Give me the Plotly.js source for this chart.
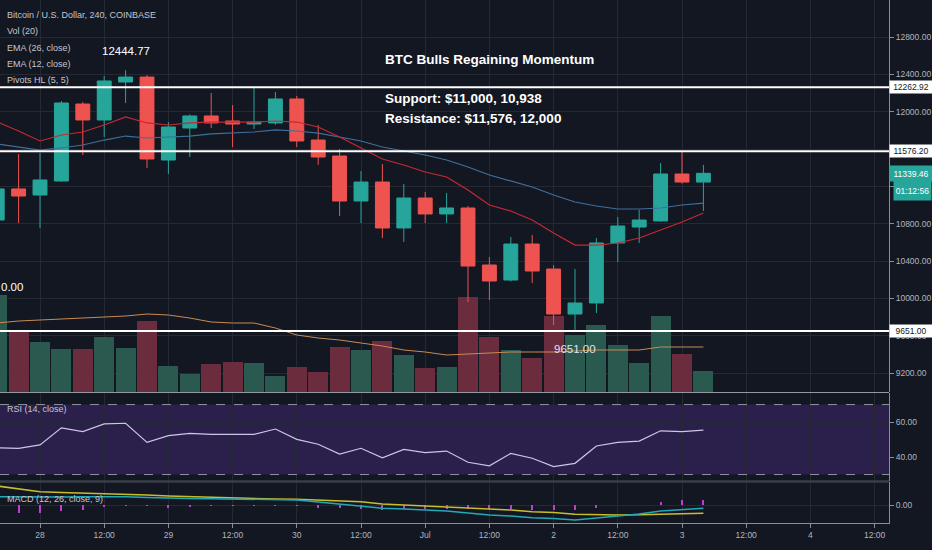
<!DOCTYPE html>
<html><head><meta charset="utf-8">
<script src="https://cdn.plot.ly/plotly-3.0.1.min.js"></script>
<style>html,body{margin:0;padding:0;background:#131722;}#chart{width:932px;height:550px;}</style>
</head><body><div id="chart"></div>
<script>
// ---- data ----
const times = ["2019-06-27 16:00","2019-06-27 20:00","2019-06-28 00:00","2019-06-28 04:00","2019-06-28 08:00","2019-06-28 12:00","2019-06-28 16:00","2019-06-28 20:00","2019-06-29 00:00","2019-06-29 04:00","2019-06-29 08:00","2019-06-29 12:00","2019-06-29 16:00","2019-06-29 20:00","2019-06-30 00:00","2019-06-30 04:00","2019-06-30 08:00","2019-06-30 12:00","2019-06-30 16:00","2019-06-30 20:00","2019-07-01 00:00","2019-07-01 04:00","2019-07-01 08:00","2019-07-01 12:00","2019-07-01 16:00","2019-07-01 20:00","2019-07-02 00:00","2019-07-02 04:00","2019-07-02 08:00","2019-07-02 12:00","2019-07-02 16:00","2019-07-02 20:00","2019-07-03 00:00","2019-07-03 04:00"];
const openP  = [10839,11172,11107,11257,12082,11911,12318,12371,11482,11825,11954,11900,11868,11879,12136,11696,11525,11043,11246,10754,11075,10904,10968,10357,10196,10582,10314,9832,9950,10593,10764,10829,11332,11246];
const highP  = [11236,11546,11557,12114,12104,12382,12444.77,12393,11889,11970,12200,12071,12262.92,12211,12168,11857,11600,11364,11439,11225,11139,11129,10989,10443,10657,10679,10357,10314,10646,10871,10946,11450,11576.2,11429];
const lowP   = [10754,10807,10754,11250,11536,11729,12093,11396,11332,11514,11825,11621,11814,11860,11621,11429,10882,10807,10646,10604,10807,10807,9961,9982,10180,10164,9714,9651,9843,10389,10593,10820,11230,10936];
const closeP = [11172,11096,11268,12093,11911,12329,12371,11493,11836,11954,11879,11868,11889,12136,11686,11514,11043,11246,10754,11075,10904,10968,10346,10186,10582,10293,9832,9950,10593,10775,10839,11332,11246,11339.46];
const ema12  = [11889,11793,11686,11750,11782,11857,11943,11879,11857,11879,11889,11889,11889,11900,11889,11836,11729,11611,11493,11429,11354,11300,11161,11000,10936,10839,10700,10571,10571,10593,10646,10732,10818,10914];
const ema26  = [11654,11621,11589,11611,11643,11696,11739,11718,11729,11739,11761,11771,11782,11804,11793,11771,11729,11686,11621,11579,11536,11482,11407,11321,11257,11193,11107,11032,10989,10957,10957,10968,11000,11021];
const volume = [3880,2400,2000,1720,1720,2200,1760,2840,1040,720,1120,1200,1160,640,1000,800,1800,1680,2040,1480,960,1000,3800,2200,1680,1360,3040,2280,2680,1880,1160,3040,1520,840];
const volMA  = [2760,2840,2880,2920,2960,3000,3040,3120,3080,2960,2800,2760,2760,2560,2280,2160,2080,1960,1840,1680,1600,1480,1520,1560,1600,1600,1600,1640,1680,1680,1680,1800,1800,1800];
const rsi    = [45.3,45.0,46.9,56.7,54.5,58.9,59.3,48.4,52.2,53.5,53.0,53.0,53.0,56.0,50.1,47.3,41.7,45.0,39.6,44.4,42.5,43.4,37.0,35.0,42.1,39.3,34.5,36.4,46.3,48.4,49.1,55.0,54.5,55.4];
const macd   = [83,80,77,80,83,85,83,75,67,65,63,60,57,53,50,30,10,-7,-33,-40,-50,-60,-80,-100,-110,-127,-135,-150,-130,-110,-90,-60,-45,-33];
const signal = [190,160,133,125,120,117,110,100,90,83,77,67,63,60,57,50,40,33,10,0,-7,-17,-30,-40,-50,-67,-75,-93,-97,-100,-97,-90,-87,-83];
const hist   = [-90,-80,-80,-60,-50,-20,-10,-10,-30,-20,-10,-5,-5,-5,-5,-30,-30,-40,-50,-40,-40,-40,-40,-40,-40,-50,-50,-50,-30,0,5,30,50,50];
const levels = [12262.92, 11576.20, 9651.00];
const lastPrice = 11339.46;
const countdown = "01:12:56";
const pivotHigh = {t:"2019-06-28 16:00", v:12444.77};
const pivotLow  = {t:"2019-07-02 04:00", v:9651.00};
const xTickVals = ["2019-06-28 00:00","2019-06-28 12:00","2019-06-29 00:00","2019-06-29 12:00","2019-06-30 00:00","2019-06-30 12:00","2019-07-01 00:00","2019-07-01 12:00","2019-07-02 00:00","2019-07-02 12:00","2019-07-03 00:00","2019-07-03 12:00","2019-07-04 00:00","2019-07-04 12:00"];
const xTickText = ["28","12:00","29","12:00","30","12:00","Jul","12:00","2","12:00","3","12:00","4","12:00"];
const legendLines = ["Bitcoin / U.S. Dollar, 240, COINBASE","Vol (20)","EMA (26, close)","EMA (12, close)","Pivots HL (5, 5)"];
const noteTitle = "BTC Bulls Regaining Momentum";
const noteLines = ["Support: $11,000, 10,938","Resistance: $11,576, 12,000"];
const cutLabel = "0.00";

// ---- styling / layout ----
const F = '"Liberation Sans","Arimo",Arial,sans-serif';
const BG = '#131722', GRID = '#252934', TXT = '#b2b5be', AXL = '#8a8d96';
const UP = '#26a69a', DN = '#ef5350';
const AX_FS = 8.5;
const plotW = 889, plotH = 523;
const px = v => v / plotW;
const py = v => (plotH - v) / plotH;

const volColors = openP.map((o,i) => closeP[i] >= o ? '#2a5a4f' : '#6b2d3d');

const traces = [
  {type:'bar', x:times, y:volume, xaxis:'x', yaxis:'y', marker:{color:volColors, line:{width:0}}, width:13392000, hoverinfo:'skip'},
  {type:'scatter', mode:'lines', x:times, y:volMA, xaxis:'x', yaxis:'y', line:{color:'#c98a52', width:1}, hoverinfo:'skip'},
  {type:'candlestick', x:times, open:openP, high:highP, low:lowP, close:closeP, xaxis:'x', yaxis:'y2',
   increasing:{line:{color:UP, width:1}, fillcolor:UP}, decreasing:{line:{color:DN, width:1}, fillcolor:DN}, hoverinfo:'skip'},
  {type:'scatter', mode:'lines', x:times, y:ema26, xaxis:'x', yaxis:'y2', line:{color:'#3f6f9c', width:1.2}, hoverinfo:'skip'},
  {type:'scatter', mode:'lines', x:times, y:ema12, xaxis:'x', yaxis:'y2', line:{color:'#c62832', width:1.2}, hoverinfo:'skip'},
  {type:'scatter', mode:'lines', x:times, y:rsi, xaxis:'x', yaxis:'y3', line:{color:'#cfc3ea', width:1.2}, hoverinfo:'skip'},
  {type:'bar', x:times, y:hist, xaxis:'x', yaxis:'y4', marker:{color:'#c23bd4', line:{width:0}}, width:1300000, hoverinfo:'skip'},
  {type:'scatter', mode:'lines', x:times, y:signal, xaxis:'x', yaxis:'y4', line:{color:'#c9bd2c', width:1.5}, hoverinfo:'skip'},
  {type:'scatter', mode:'lines', x:times, y:macd, xaxis:'x', yaxis:'y4', line:{color:'#22a9b8', width:1.5}, hoverinfo:'skip'}
];

const yCommon = {side:'right', anchor:'x', showgrid:true, gridcolor:GRID, zeroline:false, ticks:'outside', ticklen:4, tickcolor:AXL,
  tickfont:{family:F, size:AX_FS, color:TXT}, showline:true, linecolor:AXL, linewidth:1, tickformat:'.2f', fixedrange:true};

const shapes = [];
shapes.push({type:'rect', xref:'paper', x0:0, x1:1, yref:'y3', y0:30, y1:70, fillcolor:'rgba(103,58,183,0.28)', line:{width:0}, layer:'below'});
[70,30].forEach(v => shapes.push({type:'line', xref:'paper', x0:0, x1:1, yref:'y3', y0:v, y1:v, line:{color:'#8f92a0', width:1, dash:'dash'}}));
shapes.push({type:'line', xref:'paper', x0:0, x1:1, yref:'paper', y0:py(392.5), y1:py(392.5), line:{color:'#9598a1', width:1}});
shapes.push({type:'line', xref:'paper', x0:0, x1:1, yref:'paper', y0:py(481.5), y1:py(481.5), line:{color:'#3a3e49', width:2.5}});
levels.forEach(v => shapes.push({type:'line', xref:'paper', x0:0, x1:1, yref:'y2', y0:v, y1:v, line:{color:'#ffffff', width:2}}));

const LEG = {family:F, size:9, color:'#c3c6ce'};
const NOTE = {family:F, size:13.5, color:'#ffffff', weight:'bold'};
const ann = [];
legendLines.forEach((t,i) => ann.push({text:t, xref:'paper', yref:'paper', x:px(5), y:py(15 + i*16.3), xanchor:'left', yanchor:'middle', showarrow:false, font:LEG}));
ann.push({text:'RSI (14, close)', xref:'paper', yref:'paper', x:px(5), y:py(409), xanchor:'left', yanchor:'middle', showarrow:false, font:LEG});
ann.push({text:'MACD (12, 26, close, 9)', xref:'paper', yref:'paper', x:px(5), y:py(499), xanchor:'left', yanchor:'middle', showarrow:false, font:LEG});
ann.push({text:noteTitle, xref:'paper', yref:'paper', x:px(383), y:py(60), xanchor:'left', yanchor:'middle', showarrow:false, font:NOTE});
noteLines.forEach((t,i) => ann.push({text:t, xref:'paper', yref:'paper', x:px(383), y:py(99 + i*19), xanchor:'left', yanchor:'middle', showarrow:false, font:NOTE}));
ann.push({text:pivotHigh.v.toFixed(2), xref:'x', yref:'y2', x:pivotHigh.t, y:pivotHigh.v, xanchor:'center', yanchor:'bottom', yshift:11, showarrow:false, font:{family:F, size:11.5, color:'#ffffff'}});
ann.push({text:pivotLow.v.toFixed(2), xref:'x', yref:'y2', x:pivotLow.t, y:pivotLow.v, xanchor:'center', yanchor:'top', yshift:-10, showarrow:false, font:{family:F, size:11.5, color:'#e0e3eb'}});
ann.push({text:cutLabel, xref:'paper', yref:'paper', x:px(0), y:py(287), xanchor:'left', yanchor:'middle', showarrow:false, borderpad:0, font:{family:F, size:11.5, color:'#ffffff'}});
levels.forEach(v => ann.push({text:v.toFixed(2), xref:'paper', yref:'y2', x:1, y:v, xanchor:'left', yanchor:'middle', showarrow:false, bgcolor:'#ffffff', width:40, align:'center', borderpad:1, font:{family:F, size:AX_FS, color:'#131722'}}));
ann.push({text:lastPrice.toFixed(2), xref:'paper', yref:'y2', x:1, y:lastPrice, xanchor:'left', yanchor:'middle', showarrow:false, bgcolor:UP, width:40, height:13, align:'center', borderpad:1, font:{family:F, size:AX_FS, color:'#ffffff'}});
ann.push({text:countdown, xref:'paper', yref:'paper', x:px(893), y:py(190.5), xanchor:'left', yanchor:'middle', showarrow:false, bgcolor:UP, width:35, height:17, align:'center', valign:'middle', borderpad:1, font:{family:F, size:AX_FS, color:'#ffffff'}});

const layout = {
  width:932, height:550, margin:{l:0, r:43, t:0, b:27},
  paper_bgcolor:BG, plot_bgcolor:BG, showlegend:false, dragmode:false,
  boxgap:0.35, boxgroupgap:0, bargap:0,
  xaxis:{type:'date', range:['2019-06-27 16:31:22','2019-07-04 14:41:30'], domain:[0,1], anchor:'y4',
    tickmode:'array', tickvals:xTickVals, ticktext:xTickText, showgrid:true, gridcolor:GRID, zeroline:false,
    ticks:'outside', ticklen:4, tickcolor:AXL, tickfont:{family:F, size:AX_FS, color:TXT},
    showline:true, linecolor:AXL, linewidth:1, rangeslider:{visible:false}, fixedrange:true},
  yaxis:{domain:[py(392), 1], range:[0, 15680], visible:false, fixedrange:true},
  yaxis2:Object.assign({}, yCommon, {overlaying:'y', range:[8996.5, 13196.4], tickmode:'linear', tick0:9200, dtick:400}),
  yaxis3:Object.assign({}, yCommon, {domain:[py(481), py(393)], range:[26.3, 76.6], tickmode:'array', tickvals:[40,60]}),
  yaxis4:Object.assign({}, yCommon, {domain:[0, py(482)], range:[-180, 230], tickmode:'array', tickvals:[0]}),
  shapes:shapes, annotations:ann
};

Plotly.newPlot('chart', traces, layout, {staticPlot:true, displayModeBar:false});
</script>
</body></html>
